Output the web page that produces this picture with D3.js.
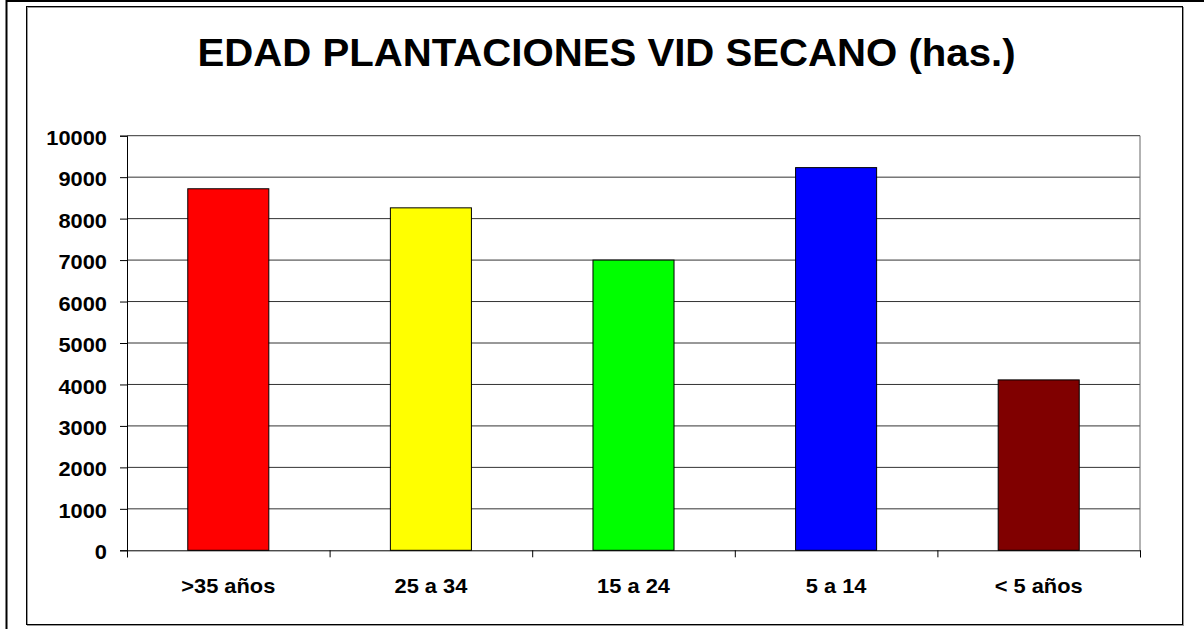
<!DOCTYPE html>
<html>
<head>
<meta charset="utf-8">
<script src="https://cdn.jsdelivr.net/npm/d3@7"></script>
<style>
  body { margin: 0; background: #fff; }
  svg { display: block; }
  text { font-family: Arial, "Liberation Sans", sans-serif; font-weight: bold; fill: #000; }
</style>
</head>
<body>
<svg width="1204" height="629"></svg>
<script>
const title = "EDAD PLANTACIONES VID SECANO (has.)";
const categories = [">35 años", "25 a 34", "15 a 24", "5 a 14", "< 5 años"];
const values = [8720, 8260, 7000, 9230, 4110];
const barColors = ["#ff0000", "#ffff00", "#00ff00", "#0000ff", "#800000"];
const yTicks = [0, 1000, 2000, 3000, 4000, 5000, 6000, 7000, 8000, 9000, 10000];

let plot = {left: 127, right: 1140, top: 135.7, bottom: 550.3};

let svg = d3.select("svg");

// frames
svg.append("line").attr("x1", 6.5).attr("x2", 6.5).attr("y1", 0).attr("y2", 629)
    .attr("stroke", "#000").attr("stroke-width", 2);
svg.append("line").attr("x1", 6).attr("x2", 1204).attr("y1", 1).attr("y2", 1)
    .attr("stroke", "#000").attr("stroke-width", 2);
svg.append("rect").attr("x", 27.5).attr("y", 7.5).attr("width", 1156).attr("height", 618)
    .attr("fill", "none").attr("stroke", "#999").attr("stroke-width", 1);
svg.append("rect").attr("x", 26.5).attr("y", 6.5).attr("width", 1156).attr("height", 618)
    .attr("fill", "none").attr("stroke", "#000").attr("stroke-width", 1);

svg.append("text")
    .attr("x", 606.5).attr("y", 66.5)
    .attr("text-anchor", "middle")
    .attr("transform", "translate(606.5,0) scale(1.03,1) translate(-606.5,0)")
    .style("font-size", "39px")
    .text(title);

let y = d3.scaleLinear().domain([0, 10000]).range([plot.bottom, plot.top]);
let x = d3.scaleBand().domain(categories).range([plot.left, plot.right])
    .paddingInner(0.6).paddingOuter(0.3);
let xEdge = d3.scaleLinear().domain([0, categories.length]).range([plot.left, plot.right]);

// gridlines
svg.append("g")
  .selectAll("line").data(yTicks.filter(d => d > 0))
  .enter().append("line")
    .attr("x1", plot.left).attr("x2", plot.right)
    .attr("y1", d => y(d)).attr("y2", d => y(d))
    .attr("stroke", "#333").attr("stroke-width", 1);

// right border of plot area
svg.append("line")
    .attr("x1", plot.right).attr("x2", plot.right)
    .attr("y1", plot.top).attr("y2", plot.bottom)
    .attr("stroke", "#666").attr("stroke-width", 1);

// bars
svg.append("g")
  .selectAll("rect").data(values)
  .enter().append("rect")
    .attr("x", (d, i) => x(categories[i]))
    .attr("y", d => y(d))
    .attr("width", x.bandwidth())
    .attr("height", d => y(0) - y(d))
    .attr("fill", (d, i) => barColors[i])
    .attr("stroke", "#000").attr("stroke-width", 1);

// y axis
let yAxis = svg.append("g")
    .attr("transform", "translate(" + plot.left + ",0)")
    .call(d3.axisLeft(y).tickValues(yTicks).tickSize(7).tickFormat(d3.format("d")));
yAxis.select(".domain").attr("stroke", "#000");
yAxis.selectAll(".tick line").attr("stroke", "#000");
yAxis.selectAll(".tick text")
    .attr("x", 0).attr("dy", null).attr("y", 0)
    .attr("dominant-baseline", "central")
    .attr("transform", "translate(-20,1.5) scale(1.12,1)")
    .style("font-size", "19.5px");

// x axis edge ticks
let xTicks = svg.append("g")
    .attr("transform", "translate(0," + plot.bottom + ")")
    .call(d3.axisBottom(xEdge).tickValues(d3.range(categories.length + 1)).tickSize(7).tickFormat(""));
xTicks.select(".domain").attr("stroke", "#000");
xTicks.selectAll(".tick line").attr("stroke", "#000");

// x labels
let xAxis = svg.append("g")
    .attr("transform", "translate(0," + plot.bottom + ")")
    .call(d3.axisBottom(x).tickSize(0));
xAxis.select(".domain").remove();
xAxis.selectAll(".tick text")
    .attr("y", 0).attr("dy", null)
    .attr("transform", "translate(0,42.5) scale(1.12,1)")
    .style("font-size", "19.5px");
</script>
</body>
</html>
